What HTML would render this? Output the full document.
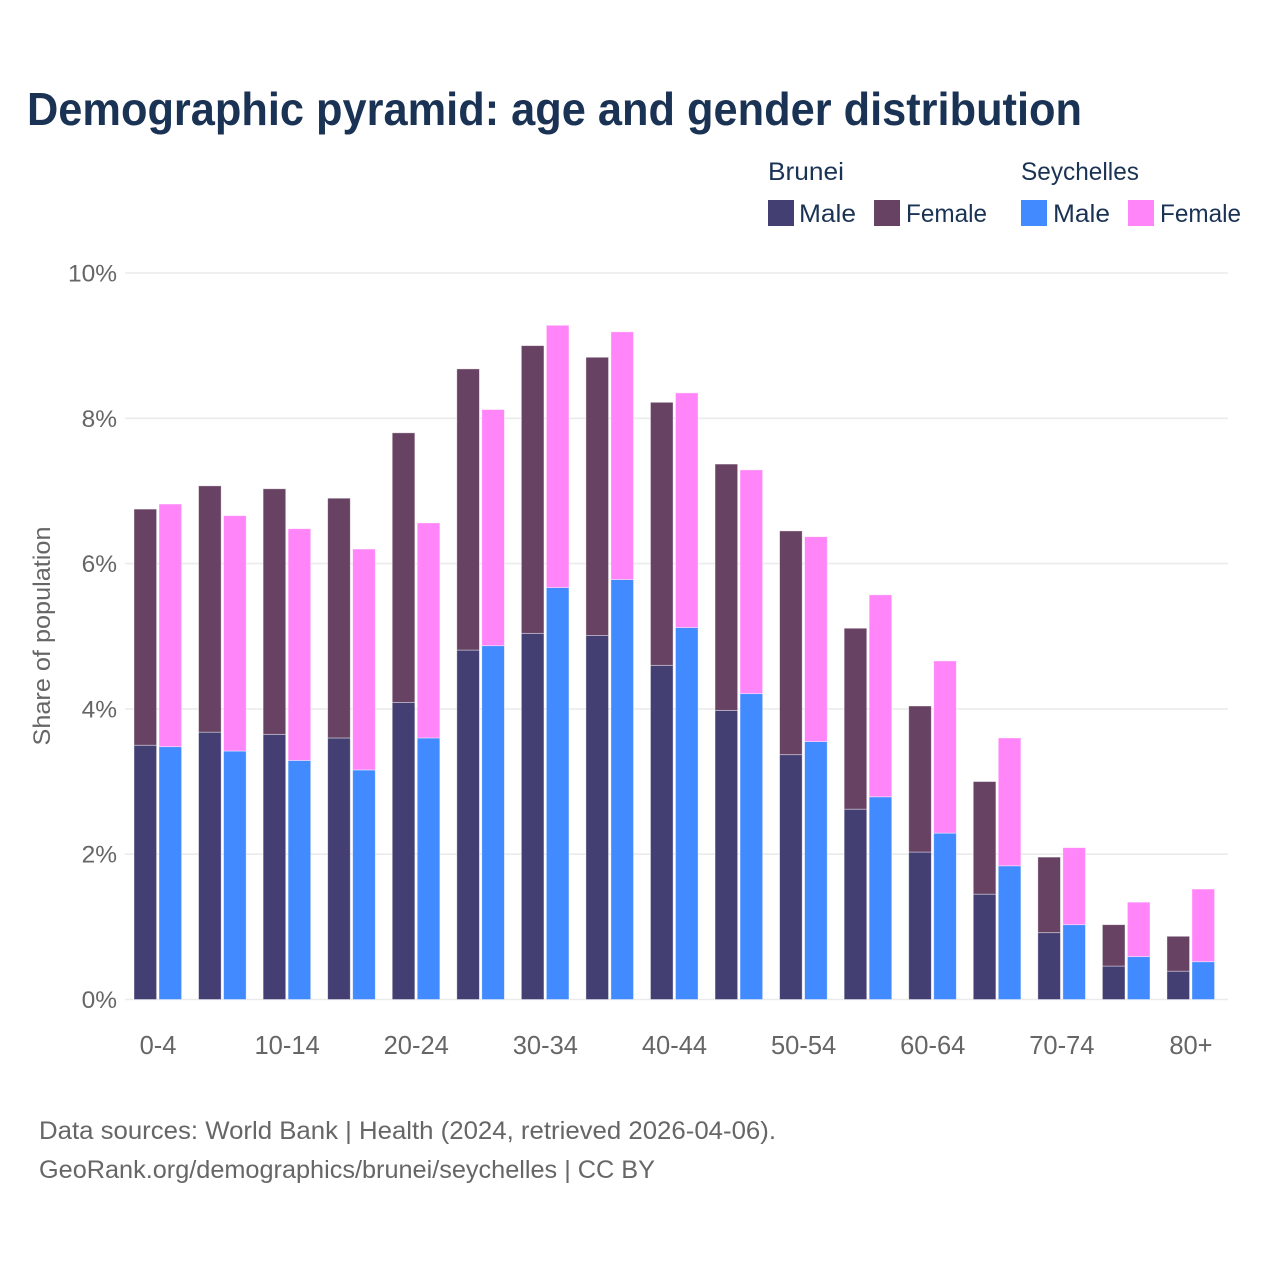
<!DOCTYPE html>
<html lang="en">
<head>
<meta charset="utf-8">
<title>Demographic pyramid</title>
<style>
html,body{margin:0;padding:0;background:#fff;}
svg{display:block;}
text{font-family:"Liberation Sans",sans-serif;}
.leg{font-size:25px;fill:#1a3354;}
.tick{font-size:24.5px;fill:#666;}
.xtick{font-size:25.5px;fill:#666;}
.foot{font-size:25px;fill:#666;}
</style>
</head>
<body>
<svg id="chart" xmlns="http://www.w3.org/2000/svg" width="1280" height="1280" viewBox="0 0 1280 1280">
  <rect x="0" y="0" width="1280" height="1280" fill="#fff"/>
  <text x="27" y="125" font-size="46" font-weight="700" fill="#1a3354" textLength="1055" lengthAdjust="spacingAndGlyphs">Demographic pyramid: age and gender distribution</text>

  <g>
    <text class="leg" x="768" y="180" textLength="76" lengthAdjust="spacingAndGlyphs">Brunei</text>
    <rect x="768" y="200" width="26" height="26" fill="#433f73"/>
    <text class="leg" x="799" y="222" textLength="57" lengthAdjust="spacingAndGlyphs">Male</text>
    <rect x="874" y="200" width="26" height="26" fill="#684263"/>
    <text class="leg" x="906" y="222" textLength="81" lengthAdjust="spacingAndGlyphs">Female</text>
    <text class="leg" x="1021" y="180" textLength="118" lengthAdjust="spacingAndGlyphs">Seychelles</text>
    <rect x="1021" y="200" width="26" height="26" fill="#418aff"/>
    <text class="leg" x="1053" y="222" textLength="57" lengthAdjust="spacingAndGlyphs">Male</text>
    <rect x="1128" y="200" width="26" height="26" fill="#ff85f8"/>
    <text class="leg" x="1160" y="222" textLength="81" lengthAdjust="spacingAndGlyphs">Female</text>
  </g>

  <g id="grid"></g>
  <g id="yticks"></g>
  <text class="tick" transform="translate(50,636) rotate(-90)" text-anchor="middle" textLength="219" lengthAdjust="spacingAndGlyphs">Share of population</text>
  <g id="bars"></g>
  <g id="xticks"></g>

  <text class="foot" x="39" y="1139" textLength="737" lengthAdjust="spacingAndGlyphs">Data sources: World Bank | Health (2024, retrieved 2026-04-06).</text>
  <text class="foot" x="39" y="1178" textLength="616" lengthAdjust="spacingAndGlyphs">GeoRank.org/demographics/brunei/seychelles | CC BY</text>
</svg>
<script>
const ageGroups = ["0-4","5-9","10-14","15-19","20-24","25-29","30-34","35-39","40-44","45-49","50-54","55-59","60-64","65-69","70-74","75-79","80+"];
const bruneiMale = [3.50,3.68,3.65,3.60,4.09,4.81,5.04,5.01,4.60,3.98,3.37,2.62,2.03,1.45,0.92,0.46,0.39];
const bruneiFemale = [3.25,3.39,3.38,3.30,3.71,3.87,3.96,3.83,3.62,3.39,3.08,2.49,2.01,1.55,1.04,0.57,0.48];
const seychellesMale = [3.48,3.42,3.29,3.16,3.60,4.87,5.67,5.78,5.12,4.21,3.55,2.79,2.29,1.84,1.03,0.59,0.52];
const seychellesFemale = [3.34,3.24,3.19,3.04,2.96,3.25,3.61,3.41,3.23,3.08,2.82,2.78,2.37,1.76,1.06,0.75,1.00];
const yTickValues = [0,2,4,6,8,10];

const NS = "http://www.w3.org/2000/svg";
const yScale = v => 999.5 - v * 72.65;
const groupCenter = i => 158 + i * 64.56;
const BAR_W = 23;

function make(tag, attrs, parent) {
  const el = document.createElementNS(NS, tag);
  for (const k in attrs) el.setAttribute(k, attrs[k]);
  parent.appendChild(el);
  return el;
}

const gridG = document.getElementById("grid");
const yG = document.getElementById("yticks");
yTickValues.forEach(v => {
  const line = make("line", {x1:125, x2:1228, y1:yScale(v), y2:yScale(v), stroke:"#ebebeb", "stroke-width":1.6}, gridG);
  
  
  const t = make("text", {x:117, y:yScale(v)+8.5, "text-anchor":"end", class:"tick"}, yG);
  t.textContent = v + "%";
  
  
});

const barsG = document.getElementById("bars");
function drawBar(x, base, value, color) {
  const y0 = yScale(base), y1 = yScale(base + value);
  const r = make("rect", {x:x, y:y1, width:BAR_W - 0.4, height:y0 - y1, fill:color, stroke:"#fff", "stroke-opacity":0.5, "stroke-width":0.8}, barsG);
  
  
  return r;
}
ageGroups.forEach((a, i) => {
  const c = groupCenter(i);
  drawBar(c - 24, 0, bruneiMale[i], "#433f73");
  drawBar(c - 24, bruneiMale[i], bruneiFemale[i], "#684263");
  drawBar(c + 1, 0, seychellesMale[i], "#418aff");
  drawBar(c + 1, seychellesMale[i], seychellesFemale[i], "#ff85f8");
});

const xG = document.getElementById("xticks");
ageGroups.forEach((a, i) => {
  if (i % 2 !== 0) return;
  const t = make("text", {x:groupCenter(i), y:1054, "text-anchor":"middle", class:"xtick"}, xG);
  t.textContent = a;
  
  
});
</script>
</body>
</html>
